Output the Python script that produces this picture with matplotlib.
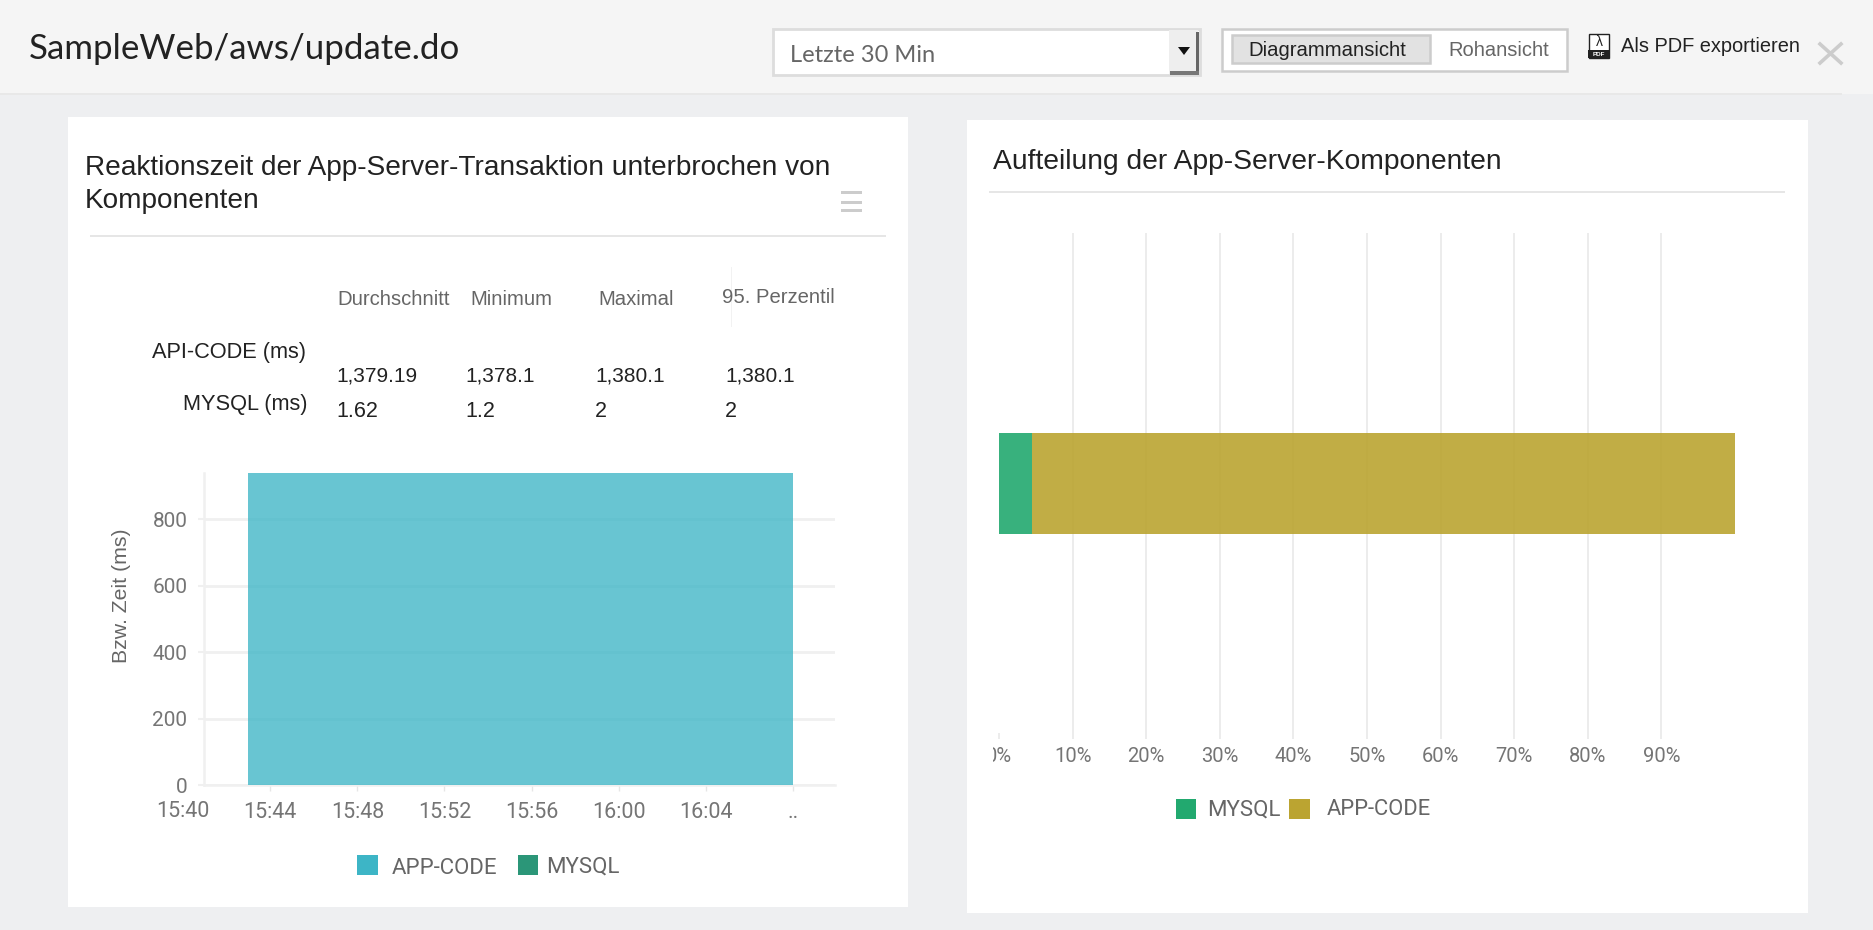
import matplotlib
matplotlib.use('Agg')
import matplotlib.pyplot as plt
from matplotlib.patches import Rectangle, Polygon
from matplotlib.transforms import Bbox

W, H = 1874, 930

# Daten
STATS_HEAD = ['Durchschnitt', 'Minimum', 'Maximal', '95. Perzentil']
API_VALUES = ['1,379.19', '1,378.1', '1,380.1', '1,380.1']
MYSQL_VALUES = ['1.62', '1.2', '2', '2']

# Minuten nach 15:40
AREA_MINUTES = [3, 28]
APP_CODE_MS = [1379.19, 1379.19]
MYSQL_MS = [1.62, 1.62]
TIME_TICKS = [4, 8, 12, 16, 20, 24, 28]
TIME_LABELS = ['15:44', '15:48', '15:52', '15:56', '16:00', '16:04', '..']
MS_TICKS = [0, 200, 400, 600, 800]

SHARE_MYSQL = [4.5]
SHARE_APP = [95.5]
SHARE_TICKS = [0, 10, 20, 30, 40, 50, 60, 70, 80, 90]

BG = '#eeeff1'
GRID = '#f0f0f0'
TICK_TEXT = '#757575'
C_APP = '#3db5c6'
C_MYSQL = '#2b9678'
C_MYSQL2 = '#22a96f'
C_APP2 = '#bba431'

fig = plt.figure(figsize=(W / 100, H / 100), dpi=100, facecolor=BG)


def px_axes(x0, y0, x1, y1):
    return fig.add_axes([x0 / W, 1 - y1 / H, (x1 - x0) / W, (y1 - y0) / H])


# Hintergrund in Pixelkoordinaten
bg = fig.add_axes([0, 0, 1, 1], zorder=0)
bg.set_xlim(0, W)
bg.set_ylim(H, 0)
bg.axis('off')


def box(x0, y0, x1, y1, fc, ec='none', lw=0, z=1):
    bg.add_patch(Rectangle((x0, y0), x1 - x0, y1 - y0, fc=fc, ec=ec, lw=lw, zorder=z))


def txt(x, y, s, size, color='#222222', family='Liberation Sans', ha='left', **kw):
    bg.text(x, y, s, fontsize=size, color=color, family=family, ha=ha, va='center', zorder=5, **kw)


# Kopfzeile
box(0, 0, W, 94, '#f5f5f5')
box(0, 93, 1842, 95.5, '#e8e8e8')
txt(29, 49, 'SampleWeb/aws/update.do', 25.1, color='#222222', family='Lato')

box(773, 29, 1200, 75, '#ffffff', ec='#dddddd', lw=2)
txt(790, 55, 'Letzte 30 Min', 17, color='#666666', family='Lato')
box(1169, 30, 1198, 74, '#eeeeee')
box(1196, 32, 1199, 75, '#666666')
box(1170, 71, 1199, 75, '#777777')
bg.add_patch(Polygon([[1178, 47], [1190, 47], [1184, 55]], fc='#111111', zorder=5))

box(1222, 29, 1567, 71, '#ffffff', ec='#cccccc', lw=1.8)
box(1232, 35, 1430, 63, '#e2e2e2', ec='#cccccc', lw=1.8)
txt(1327, 50, 'Diagrammansicht', 14.6, ha='center')
txt(1499, 51, 'Rohansicht', 14.5, color='#666666', ha='center')

box(1589, 34, 1609, 58, '#ffffff', ec='#222222', lw=1)
box(1588, 50, 1610, 58, '#222222')
txt(1599, 54.5, 'PDF', 4.5, color='#ffffff', ha='center', weight='bold')
txt(1599, 42, 'λ', 10, color='#222222', ha='center')
txt(1621, 46, 'Als PDF exportieren', 14.4)
bg.plot([1820, 1841], [44, 63], color='#cccccc', lw=2.6, zorder=5)
bg.plot([1841, 1820], [44, 63], color='#cccccc', lw=2.6, zorder=5)

# Linke Karte
box(68, 117, 908, 907, '#ffffff')
txt(85, 168, 'Reaktionszeit der App-Server-Transaktion unterbrochen von', 20.2)
txt(85, 201, 'Komponenten', 20.2)
for hy in [193, 202, 210]:
    box(841, hy - 1.5, 862, hy + 1.5, '#cccccc')
box(90, 235, 886, 237, '#e6e6e6')

for hx, head, hy in zip([337, 470, 598, 722], STATS_HEAD, [299, 299, 299, 297]):
    txt(hx, hy, head, 14.6, color='#666666')
box(731.5, 267, 732.5, 327, '#f2f2f2')
txt(306, 352, 'API-CODE (ms)', 15.7, ha='right')
txt(308, 404, 'MYSQL (ms)', 15.7, ha='right')
for vx, api, mysql in zip([336, 465, 595, 725], API_VALUES, MYSQL_VALUES):
    txt(vx, 376, api, 15)
    txt(vx, 411, mysql, 15.5)

# Rechte Karte
box(967, 120, 1808, 913, '#ffffff')
txt(993, 162, 'Aufteilung der App-Server-Komponenten', 20.3)
box(989, 191, 1785, 193, '#e6e6e6')

# Flaechendiagramm
ax = px_axes(204, 473, 835, 785)
ax.patch.set_alpha(0)
ax.set_zorder(2)
ax.stackplot(AREA_MINUTES, APP_CODE_MS, MYSQL_MS, colors=[C_APP, C_MYSQL], alpha=0.78, lw=0, zorder=3)
ax.set_xlim(0.96, 29.93)
ax.set_ylim(0, 940)
ax.set_xticks(TIME_TICKS, TIME_LABELS)
ax.set_yticks(MS_TICKS)
ax.grid(axis='y', color=GRID, lw=2)
ax.set_axisbelow(True)
for side in ['top', 'right']:
    ax.spines[side].set_visible(False)
for side in ['left', 'bottom']:
    ax.spines[side].set_color(GRID)
    ax.spines[side].set_linewidth(1.8)
ax.tick_params(axis='x', length=4.5, width=1, color='#e6e6e6', labelsize=15.5, labelcolor=TICK_TEXT, pad=8)
ax.tick_params(axis='y', length=4, width=1.5, color=GRID, labelsize=15, labelcolor=TICK_TEXT, pad=8)
for lab in ax.get_xticklabels() + ax.get_yticklabels():
    lab.set_family('Roboto')
ax.annotate('15:40', (0, 0), xycoords=('data', 'axes fraction'), xytext=(0, -26), textcoords='offset pixels',
            ha='center', va='center', fontsize=15.5, color=TICK_TEXT, family='Roboto', annotation_clip=False)
ax.set_ylabel('Bzw. Zeit (ms)', fontsize=15.3, color='#666666', family='Liberation Sans', va='center')
ax.yaxis.set_label_coords((121.5 - 204) / 631, 0.606)

box(357.5, 855, 378, 875, C_APP)
txt(392, 868, 'APP-CODE', 16, color='#666666', family='Roboto')
box(518, 855, 538, 875, C_MYSQL)
txt(546, 867, 'MYSQL', 16, color='#666666', family='Roboto')

# Gestapelter Balken
ax2 = px_axes(999, 233, 1740, 739)
ax2.patch.set_alpha(0)
ax2.set_zorder(2)
ax2.barh([0], SHARE_MYSQL, height=0.8, color=C_MYSQL2, alpha=0.9, zorder=3)
ax2.barh([0], SHARE_APP, left=SHARE_MYSQL, height=0.8, color=C_APP2, alpha=0.9, zorder=3)
ax2.set_xlim(0, 100.7)
ax2.set_ylim(-2.03, 1.989)
ax2.set_yticks([])
ax2.set_xticks(SHARE_TICKS, [f'{t}%' for t in SHARE_TICKS])
ax2.grid(axis='x', color='#ececec', lw=1.4)
ax2.set_axisbelow(True)
for s in ax2.spines.values():
    s.set_visible(False)
ax2.tick_params(axis='x', direction='in', length=4.5, width=1.4, color='#ececec',
                labelsize=14.5, labelcolor=TICK_TEXT, pad=5.5)
for lab in ax2.get_xticklabels():
    lab.set_family('Roboto')
# der 0%-Text ist links abgeschnitten
first = ax2.xaxis.get_major_ticks()[0]
first.gridline.set_visible(False)
first.label1.set_clip_box(Bbox([[993, 0], [1100, H]]))
first.label1.set_clip_on(True)

box(1176, 799, 1196, 819, C_MYSQL2)
txt(1207, 810, 'MYSQL', 16, color='#666666', family='Roboto')
box(1289, 799, 1310, 819, C_APP2)
txt(1327, 809, 'APP-CODE', 15.8, color='#666666', family='Roboto')

fig.savefig('out.png', dpi=100, facecolor=BG)
